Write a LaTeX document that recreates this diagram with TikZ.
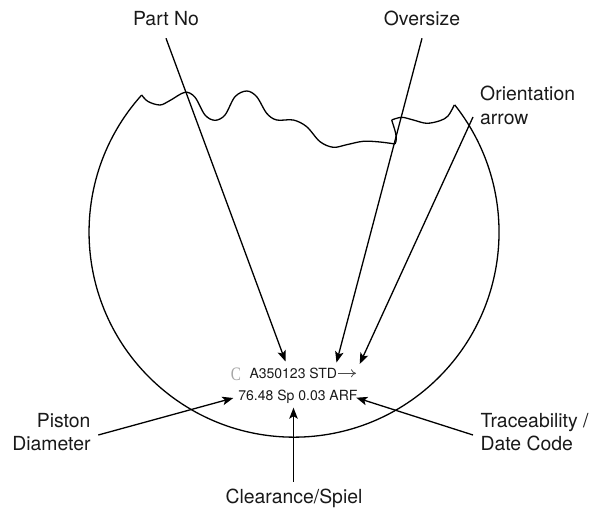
\documentclass[tikz,border=0pt]{standalone}
\usepackage{fontspec}
\setmainfont{TeX Gyre Heros}
\newfontfamily\logofont{Liberation Serif}
\usetikzlibrary{arrows.meta}
\tikzset{
  every picture/.style={line join=round},
  shape line/.style={line width=1.3pt,black},
  lead/.style={line width=1.3pt,black,-{Stealth[length=11pt,width=8.5pt,inset=2.5pt]}},
  lab/.style={font=\fontsize{19.4}{23}\selectfont,inner sep=0pt,text=black!90},
  mark text/.style={font=\fontsize{14}{16}\selectfont,inner sep=0pt,text=black!90}
}
\begin{document}
\begin{tikzpicture}[x=1pt,y=-1pt]
\useasboundingbox (0,0) rectangle (606,508);
% piston outline
\draw[shape line] (141.7,95) arc[start angle=222,end angle=-38.4,radius=205];
\draw[shape line] plot[smooth,tension=0.55] coordinates {
(141.7,95) (148,101.5) (160,105) (170,100.5) (185,92.3) (195,97.3) (205,115) (215,120.3) (225,115) (235,96.7) (246.7,91) (256.7,96.7) (266.7,113.3) (276.7,120) (293.3,120) (306.7,126.7) (320,141.7) (333.3,147.3) (346.7,144.7) (363.3,141.3) (380,142) (395,144)};
\draw[shape line] (395,144) .. controls (398.5,138) and (394,128) .. (391.7,120);
\draw[shape line] plot[smooth,tension=0.55] coordinates {
(391.7,120) (401.7,117.3) (413.3,120) (426.7,123.3) (440,120.7) (448,116) (454.3,105)};
% labels
\node[lab,anchor=base] (partno) at (166,26) {Part No};
\node[lab,anchor=base] (oversize) at (422,26) {Oversize};
\node[lab,anchor=base west] (orient) at (480,101) {Orientation};
\node[lab,anchor=base west] (orient2) at (480,124.3) {arrow};
\node[lab,anchor=base east] (piston) at (90.7,427.3) {Piston};
\node[lab,anchor=base east] (piston2) at (90.7,450) {Diameter};
\node[lab,anchor=base west] (trace) at (480.3,427) {Traceability /};
\node[lab,anchor=base west] (trace2) at (480.3,450) {Date Code};
\node[lab,anchor=base] (clear) at (294,503.5) {Clearance/Spiel};
% marking
\node[mark text,anchor=base west] (m1) at (249.3,378.3) {A350123 STD};
\node[mark text,anchor=base west] (m2) at (238.2,400) {76.48 Sp 0.03 ARF};
\node[font=\logofont\fontsize{19}{19}\selectfont,text=black!35,inner sep=0pt,xscale=0.8,anchor=base] (logo) at (236,380) {C};
\coordinate (arrowend) at (356,373.3);
\draw[line width=0.8pt,black!70,-{To[length=5pt,width=8pt]}] (338,373.3) -- (arrowend);
% leaders
\coordinate (tpart) at (285.5,361.5);
\coordinate (tover) at (336.5,362.5);
\coordinate (torient) at (359.7,364);
\coordinate (tpist) at (233.3,398);
\coordinate (ttrace) at (356.3,397.7);
\coordinate (tclear) at (293.5,407.7);
\draw[lead] (166,38.3) -- (tpart);
\draw[lead] (422,38.3) -- (tover);
\draw[lead] (473,117) -- (torient);
\draw[lead] (98.3,435) -- (tpist);
\draw[lead] (473,435) -- (ttrace);
\draw[lead] (293.5,481.7) -- (tclear);
\end{tikzpicture}
\end{document}
